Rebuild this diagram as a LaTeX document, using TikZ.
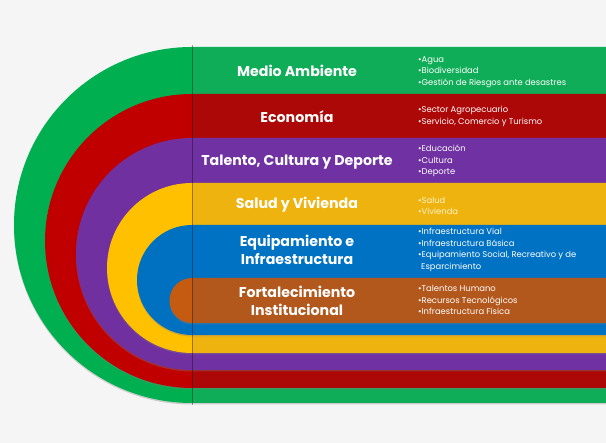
\documentclass[tikz,border=0pt]{standalone}
\usepackage{fontspec}
\setmainfont{Poppins}
\usetikzlibrary{shadows}

\definecolor{bg}{HTML}{F5F5F5}
\definecolor{verdeA}{HTML}{00B050}
\definecolor{verdeB}{HTML}{10AD58}
\definecolor{rojoA}{HTML}{C00000}
\definecolor{rojoB}{HTML}{AD0808}
\definecolor{moradoA}{HTML}{7030A0}
\definecolor{moradoB}{HTML}{7032A2}
\definecolor{amarilloA}{HTML}{FFC000}
\definecolor{amarilloB}{HTML}{EFB30F}
\definecolor{azulA}{HTML}{0070C0}
\definecolor{azulB}{HTML}{0072C4}
\definecolor{naranjaA}{HTML}{C55A11}
\definecolor{naranjaB}{HTML}{B3581D}

\begin{document}
\begin{tikzpicture}[x=1pt,y=1pt]
	\tikzset{title/.style={text=white,font=\bfseries\fontsize{14.2}{17.5}\selectfont,align=center},
		items/.style={text=white,font=\fontsize{8.4}{11.6}\selectfont,align=left,anchor=west,inner sep=0pt},
		band/.style={drop shadow={opacity=.35,shadow xshift=0pt,shadow yshift=-1.5pt}}}
	\fill[bg] (0,0) rectangle (606,443);
	\useasboundingbox (0,0) rectangle (606,443);
	
	% bandas: arco a la izquierda, franja a la derecha
	\fill[verdeA,band] (606,396) -- (192,396) arc[start angle=90,end angle=270,radius=178] -- (606,40) -- cycle;
	\fill[verdeB] (192,396) rectangle (606,40);
	\fill[rojoA,band] (606,349) -- (192,349) arc[start angle=90,end angle=270,radius=147] -- (606,55) -- cycle;
	\fill[rojoB] (192,349) rectangle (606,55);
	\fill[moradoA,band] (606,305) -- (192,305) arc[start angle=90,end angle=270,radius=116] -- (606,73) -- cycle;
	\fill[moradoB] (192,305) rectangle (606,73);
	\fill[amarilloA,band] (606,260) -- (192,260) arc[start angle=90,end angle=270,radius=85] -- (606,90) -- cycle;
	\fill[amarilloB] (192,260) rectangle (606,90);
	\fill[azulA,band] (606,218) -- (192,218) arc[start angle=90,end angle=270,radius=55] -- (606,108) -- cycle;
	\fill[azulB] (192,218) rectangle (606,108);
	\fill[naranjaA,band] (606,165) -- (192,165) arc[start angle=90,end angle=270,radius=22.5] -- (606,120) -- cycle;
	\fill[naranjaB] (192,165) rectangle (606,120);
	\draw[black,opacity=.35,line width=1pt] (192,398) -- (192,38);
	
	% titulos
	\node[title](medio) at (297,372) {Medio Ambiente};
	\node[title](economia) at (297,326) {Economía};
	\node[title](talento) at (297,281) {Talento, Cultura y Deporte};
	\node[title](salud) at (297,238) {Salud y Vivienda};
	\node[title](equipamiento) at (297,193) {Equipamiento e\\Infraestructura};
	\node[title](fortalecimiento) at (297,142) {Fortalecimiento\\Institucional};
	
	% listas
	\node[items](medioL) at (418,371) {•Agua\\•Biodiversidad\\•Gestión de Riesgos ante desastres};
	\node[items](economiaL) at (418,326.5) {•Sector Agropecuario\\•Servicio, Comercio y Turismo};
	\node[items](talentoL) at (418,282) {•Educación\\•Cultura\\•Deporte};
	\node[items,text=white!80!amarilloA](saludL) at (418,237) {•Salud\\•Vivienda};
	\node[items](equipamientoL) at (418,193) {•Infraestructura Vial\\•Infraestructura Básica\\•Equipamiento Social, Recreativo y de\\\hspace*{3pt}Esparcimiento};
	\node[items](fortalecimientoL) at (418,143) {•Talentos Humano\\•Recursos Tecnológicos\\•Infraestructura Física};
\end{tikzpicture}
\end{document}
